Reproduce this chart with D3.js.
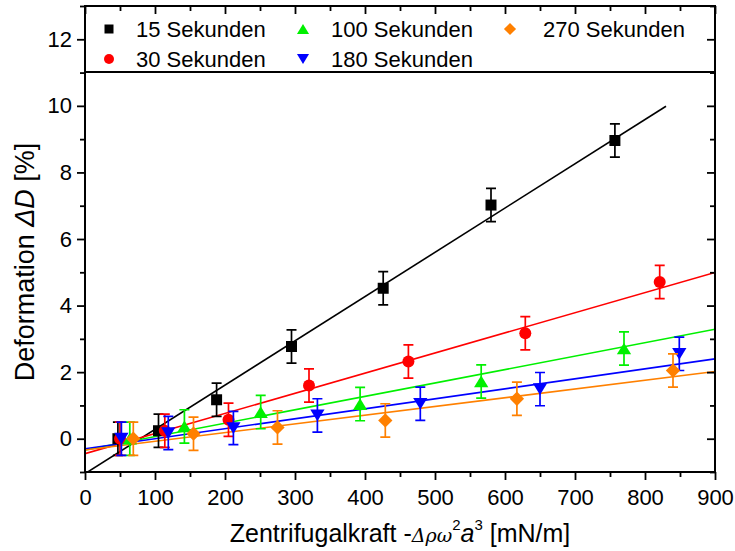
<!DOCTYPE html>
<html>
<head>
<meta charset="utf-8">
<script src="https://cdn.jsdelivr.net/npm/d3@7"></script>
<style>
  html, body { margin: 0; padding: 0; background: #fff; }
  svg { display: block; font-family: "Liberation Sans", Arial, sans-serif; }
</style>
</head>
<body>
<svg id="chart" width="735" height="551"></svg>
<script>
// Centrifugal force (mN/m) and deformation (%) for each spinning time
const seriesNames = ["15 Sekunden", "30 Sekunden", "100 Sekunden", "180 Sekunden", "270 Sekunden"];
const seriesColors = ["#000000", "#ff0000", "#00f000", "#0000ff", "#ff8000"];
const seriesSymbols = ["square", "circle", "triangleUp", "triangleDown", "diamond"];

const force15 = [47, 105, 188, 295, 426, 580, 757];
const deform15 = [0, 0.24, 1.17, 2.77, 4.52, 7.02, 8.96];
const force30 = [50, 114, 205, 320, 462, 629, 821];
const deform30 = [0, 0.24, 0.57, 1.6, 2.32, 3.17, 4.71];
const force100 = [64, 142, 251, 393, 566, 770];
const deform100 = [0, 0.37, 0.8, 1.04, 1.72, 2.71];
const force180 = [52, 119, 212, 332, 479, 650, 849];
const deform180 = [0, 0.17, 0.32, 0.70, 1.05, 1.49, 2.55];
const force270 = [69, 155, 275, 429, 617, 840];
const deform270 = [0, 0.15, 0.34, 0.55, 1.2, 2.05];
const errorHalf = 0.5; // ± error of every deformation value

// Linear fits: slope, intercept and drawn force range
const fitSlopes = [0.0133, 0.00605, 0.00403, 0.0030, 0.00262];
const fitIntercepts = [-1.05, -0.45, -0.34, -0.30, -0.34];
const fitStart = [0, 0, 0, 0, 0];
const fitEnd = [830, 900, 900, 900, 900];

const xTickValues = [0, 100, 200, 300, 400, 500, 600, 700, 800, 900];
const yTickValues = [0, 2, 4, 6, 8, 10, 12];

const forces = [force15, force30, force100, force180, force270];
const deforms = [deform15, deform30, deform100, deform180, deform270];

const svg = d3.select("#chart");
const plotL = 85, plotR = 715, plotT = 6, plotB = 472;

const x = d3.scaleLinear().domain([0, 900]).range([plotL, plotR]);
const y = d3.scaleLinear().domain([-1, 13]).range([plotB, plotT]);

// Marker path generator (centred on 0,0)
function markerPath(kind, s) {
  const h = s / 2;
  switch (kind) {
    case "square": return `M${-h},${-h}H${h}V${h}H${-h}Z`;
    case "circle": return `M${-h},0A${h},${h} 0 1,0 ${h},0A${h},${h} 0 1,0 ${-h},0Z`;
    case "triangleUp": { const w = s * 0.55, t = s * 0.45; return `M0,${-t}L${w},${t}L${-w},${t}Z`; }
    case "triangleDown": { const w = s * 0.55, t = s * 0.45; return `M0,${t}L${w},${-t}L${-w},${-t}Z`; }
    case "diamond": { const d = s * 0.55; return `M0,${-d}L${d},0L0,${d}L${-d},0Z`; }
  }
}
const markerSize = [11, 12, 13, 13, 13];

// Clip region for the plot
svg.append("defs").append("clipPath").attr("id", "plotClip")
  .append("rect").attr("x", plotL).attr("y", plotT).attr("width", plotR - plotL).attr("height", plotB - plotT);

const plot = svg.append("g").attr("clip-path", "url(#plotClip)");

// Fit lines
seriesNames.forEach((name, i) => {
  const x0 = fitStart[i], x1 = fitEnd[i];
  plot.append("line")
    .attr("x1", x(x0)).attr("y1", y(fitIntercepts[i] + fitSlopes[i] * x0))
    .attr("x2", x(x1)).attr("y2", y(fitIntercepts[i] + fitSlopes[i] * x1))
    .attr("stroke", seriesColors[i]).attr("stroke-width", 1.6);
});

// Error bars and markers
seriesNames.forEach((name, i) => {
  const g = plot.append("g");
  const pts = forces[i].map((f, k) => ({ f, d: deforms[i][k] }));
  const cap = 5;
  pts.forEach(p => {
    const cx = x(p.f), yt = y(p.d + errorHalf), yb = y(p.d - errorHalf);
    g.append("path")
      .attr("d", `M${cx},${yt}V${yb}M${cx - cap},${yt}H${cx + cap}M${cx - cap},${yb}H${cx + cap}`)
      .attr("stroke", seriesColors[i]).attr("stroke-width", 1.7).attr("fill", "none");
  });
  g.selectAll("path.m").data(pts).join("path").attr("class", "m")
    .attr("d", markerPath(seriesSymbols[i], markerSize[i]))
    .attr("transform", p => `translate(${x(p.f)},${y(p.d)})`)
    .attr("fill", seriesColors[i]);
});

// Legend box
svg.append("rect").attr("x", plotL).attr("y", plotT).attr("width", plotR - plotL).attr("height", 72 - plotT)
  .attr("fill", "#fff").attr("stroke", "#000").attr("stroke-width", 2);

const legendPos = [
  { mx: 109, my: 29, tx: 136, ty: 37 },
  { mx: 109, my: 59, tx: 136, ty: 67 },
  { mx: 303, my: 29, tx: 331, ty: 37 },
  { mx: 303, my: 59, tx: 331, ty: 67 },
  { mx: 510, my: 29, tx: 543, ty: 37 }
];
seriesNames.forEach((name, i) => {
  const p = legendPos[i];
  svg.append("path").attr("d", markerPath(seriesSymbols[i], markerSize[i] - 2))
    .attr("transform", `translate(${p.mx},${p.my})`).attr("fill", seriesColors[i]);
  svg.append("text").attr("x", p.tx).attr("y", p.ty).attr("font-size", 22).text(name);
});

// Axes
const fmt = d3.format("d");
const xAxisBottom = d3.axisBottom(x).tickValues(xTickValues).tickSize(8).tickPadding(4).tickFormat(fmt);
const yAxisLeft = d3.axisLeft(y).tickValues(yTickValues).tickSize(8).tickPadding(5).tickFormat(fmt);

const minorX = d3.range(50, 900, 100);
const minorY = d3.range(-1, 13.5, 2);

function styleAxis(g) {
  g.select(".domain").remove();
  g.selectAll("line").attr("stroke", "#000").attr("stroke-width", 1.8);
  g.selectAll("text").attr("font-size", 22).attr("fill", "#000")
    .attr("font-family", "'Liberation Sans', Arial, sans-serif");
}

const gx = svg.append("g").attr("transform", `translate(0,${plotB})`).call(xAxisBottom).call(styleAxis);
gx.selectAll("text").attr("dy", "0.95em");
svg.append("g").attr("transform", `translate(0,${plotB})`)
  .call(d3.axisBottom(x).tickValues(minorX).tickSize(5).tickFormat("")).call(styleAxis);

svg.append("g").attr("transform", `translate(${plotL},0)`).call(yAxisLeft).call(styleAxis);
svg.append("g").attr("transform", `translate(${plotL},0)`)
  .call(d3.axisLeft(y).tickValues(minorY).tickSize(5).tickFormat("")).call(styleAxis);

// Mirrored inward ticks on top and right
svg.append("g").attr("transform", `translate(0,${plotT})`)
  .call(d3.axisBottom(x).tickValues(xTickValues).tickSize(8).tickFormat("")).call(styleAxis);
svg.append("g").attr("transform", `translate(0,${plotT})`)
  .call(d3.axisBottom(x).tickValues(minorX).tickSize(5).tickFormat("")).call(styleAxis);
svg.append("g").attr("transform", `translate(${plotR},0)`)
  .call(d3.axisLeft(y).tickValues(yTickValues).tickSize(8).tickFormat("")).call(styleAxis);
svg.append("g").attr("transform", `translate(${plotR},0)`)
  .call(d3.axisLeft(y).tickValues(minorY).tickSize(5).tickFormat("")).call(styleAxis);

// Frame
svg.append("rect").attr("x", plotL).attr("y", plotT).attr("width", plotR - plotL).attr("height", plotB - plotT)
  .attr("fill", "none").attr("stroke", "#000").attr("stroke-width", 2);

// Axis titles
const xt = svg.append("text").attr("x", (plotL + plotR) / 2).attr("y", 542)
  .attr("text-anchor", "middle").attr("font-size", 25);
xt.append("tspan").text("Zentrifugalkraft -");
xt.append("tspan").attr("font-style", "italic").attr("font-family", "'DejaVu Serif', serif").attr("font-size", 19).text("Δρω");
xt.append("tspan").attr("font-size", 15).attr("dy", -12).text("2");
xt.append("tspan").attr("font-style", "italic").attr("dy", 12).text("a");
xt.append("tspan").attr("font-size", 15).attr("dy", -12).text("3");
xt.append("tspan").attr("dy", 12).text(" [mN/m]");

const yt = svg.append("text").attr("transform", "translate(34,262) rotate(-90)")
  .attr("text-anchor", "middle").attr("font-size", 27);
yt.append("tspan").text("Deformation ");
yt.append("tspan").attr("font-style", "italic").text("ΔD");
yt.append("tspan").text(" [%]");
</script>
</body>
</html>
